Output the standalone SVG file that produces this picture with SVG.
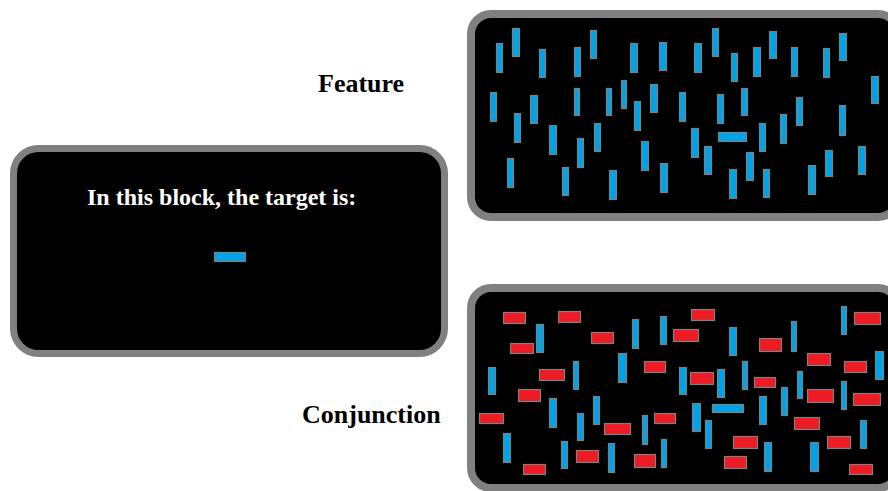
<svg xmlns="http://www.w3.org/2000/svg" width="888" height="491" viewBox="0 0 888 491">
<style>
.panel{fill:#000;stroke:#808080}
.b{fill:#00A2E8;stroke:#808080;stroke-width:1.2}
.r{fill:#ED1C24;stroke:#808080;stroke-width:1.2}
.lbl{font-family:"Liberation Serif","Times New Roman",serif;font-weight:bold;font-size:26px;fill:#000}
.cue{font-family:"Liberation Serif","Times New Roman",serif;font-weight:bold;font-size:24px;fill:#fff}
</style>
<rect width="888" height="491" fill="#fff"/>
<g id="cue-panel">
<rect class="panel" x="13.5" y="148.5" width="431" height="205" rx="25" stroke-width="7"/>
<text class="cue" x="87" y="205">In this block, the target is:</text>
<rect class="b" x="214.5" y="252.5" width="31" height="9"/>
</g>
<g id="feature-label"><text class="lbl" x="318" y="92">Feature</text></g>
<g id="conjunction-label"><text class="lbl" x="302" y="423">Conjunction</text></g>
<g id="feature-panel">
<rect class="panel" x="471" y="14" width="427" height="203" rx="20" stroke-width="8"/>
<rect class="b" x="496.5" y="43.5" width="6" height="29"/>
<rect class="b" x="512.5" y="28.5" width="7" height="28"/>
<rect class="b" x="539.5" y="49.5" width="6" height="28"/>
<rect class="b" x="574.5" y="47.5" width="6" height="29"/>
<rect class="b" x="590.5" y="30.5" width="6" height="28"/>
<rect class="b" x="630.5" y="43.5" width="7" height="29"/>
<rect class="b" x="659.5" y="42.5" width="7" height="28"/>
<rect class="b" x="490.5" y="92.5" width="6" height="29"/>
<rect class="b" x="514.5" y="113.5" width="6" height="29"/>
<rect class="b" x="530.5" y="95.5" width="7" height="28"/>
<rect class="b" x="574.5" y="88.5" width="5" height="27"/>
<rect class="b" x="606.5" y="88.5" width="5" height="27"/>
<rect class="b" x="621.5" y="80.5" width="5" height="28"/>
<rect class="b" x="634.5" y="101.5" width="6" height="29"/>
<rect class="b" x="650.5" y="84.5" width="7" height="28"/>
<rect class="b" x="549.5" y="125.5" width="7" height="29"/>
<rect class="b" x="577.5" y="138.5" width="6" height="29"/>
<rect class="b" x="594.5" y="123.5" width="6" height="28"/>
<rect class="b" x="507.5" y="158.5" width="6" height="29"/>
<rect class="b" x="562.5" y="167.5" width="6" height="28"/>
<rect class="b" x="609.5" y="170.5" width="7" height="29"/>
<rect class="b" x="641.5" y="141.5" width="7" height="29"/>
<rect class="b" x="660.5" y="163.5" width="7" height="29"/>
<rect class="b" x="694.5" y="43.5" width="7" height="29"/>
<rect class="b" x="712.5" y="28.5" width="6" height="28"/>
<rect class="b" x="731.5" y="53.5" width="6" height="28"/>
<rect class="b" x="753.5" y="47.5" width="7" height="29"/>
<rect class="b" x="769.5" y="31.5" width="7" height="27"/>
<rect class="b" x="791.5" y="47.5" width="6" height="29"/>
<rect class="b" x="823.5" y="48.5" width="6" height="29"/>
<rect class="b" x="839.5" y="33.5" width="7" height="27"/>
<rect class="b" x="871.5" y="76.5" width="7" height="27"/>
<rect class="b" x="679.5" y="92.5" width="6" height="29"/>
<rect class="b" x="717.5" y="94.5" width="6" height="29"/>
<rect class="b" x="741.5" y="88.5" width="6" height="27"/>
<rect class="b" x="780.5" y="114.5" width="6" height="29"/>
<rect class="b" x="796.5" y="97.5" width="6" height="28"/>
<rect class="b" x="839.5" y="105.5" width="6" height="30"/>
<rect class="b" x="691.5" y="128.5" width="7" height="29"/>
<rect class="b" x="704.5" y="146.5" width="7" height="28"/>
<rect class="b" x="759.5" y="123.5" width="6" height="28"/>
<rect class="b" x="746.5" y="152.5" width="7" height="28"/>
<rect class="b" x="729.5" y="169.5" width="7" height="29"/>
<rect class="b" x="763.5" y="169.5" width="6" height="28"/>
<rect class="b" x="808.5" y="165.5" width="7" height="29"/>
<rect class="b" x="825.5" y="150.5" width="7" height="26"/>
<rect class="b" x="858.5" y="146.5" width="7" height="28"/>
<rect class="b" x="718.5" y="132.5" width="28" height="9"/>
</g>
<g id="conjunction-panel">
<rect class="panel" x="471" y="288" width="427" height="200" rx="20" stroke-width="8"/>
<rect class="r" x="503.5" y="312.5" width="22" height="11"/>
<rect class="r" x="558.5" y="311.5" width="22" height="11"/>
<rect class="r" x="591.5" y="332.5" width="22" height="11"/>
<rect class="r" x="510.5" y="343.5" width="23" height="10"/>
<rect class="r" x="539.5" y="369.5" width="25" height="11"/>
<rect class="r" x="644.5" y="361.5" width="21" height="11"/>
<rect class="r" x="673.5" y="329.5" width="25" height="12"/>
<rect class="r" x="691.5" y="309.5" width="23" height="11"/>
<rect class="r" x="759.5" y="338.5" width="22" height="13"/>
<rect class="r" x="807.5" y="353.5" width="23" height="12"/>
<rect class="r" x="854.5" y="312.5" width="26" height="12"/>
<rect class="r" x="844.5" y="361.5" width="22" height="11"/>
<rect class="r" x="690.5" y="372.5" width="23" height="12"/>
<rect class="r" x="754.5" y="377.5" width="21" height="10"/>
<rect class="r" x="807.5" y="389.5" width="26" height="13"/>
<rect class="r" x="853.5" y="393.5" width="27" height="12"/>
<rect class="r" x="794.5" y="417.5" width="25" height="12"/>
<rect class="r" x="733.5" y="436.5" width="24" height="12"/>
<rect class="r" x="827.5" y="436.5" width="23" height="12"/>
<rect class="r" x="724.5" y="456.5" width="22" height="12"/>
<rect class="r" x="849.5" y="464.5" width="23" height="10"/>
<rect class="r" x="518.5" y="389.5" width="22" height="12"/>
<rect class="r" x="479.5" y="413.5" width="24" height="10"/>
<rect class="r" x="604.5" y="423.5" width="26" height="11"/>
<rect class="r" x="654.5" y="413.5" width="21" height="10"/>
<rect class="r" x="576.5" y="450.5" width="22" height="12"/>
<rect class="r" x="634.5" y="454.5" width="21" height="13"/>
<rect class="r" x="523.5" y="464.5" width="22" height="10"/>
<rect class="b" x="536.5" y="324.5" width="7" height="28"/>
<rect class="b" x="632.5" y="319.5" width="6" height="29"/>
<rect class="b" x="660.5" y="316.5" width="6" height="28"/>
<rect class="b" x="488.5" y="367.5" width="7" height="27"/>
<rect class="b" x="618.5" y="353.5" width="8" height="29"/>
<rect class="b" x="573.5" y="361.5" width="5" height="28"/>
<rect class="b" x="679.5" y="367.5" width="7" height="27"/>
<rect class="b" x="729.5" y="327.5" width="7" height="28"/>
<rect class="b" x="791.5" y="321.5" width="5" height="30"/>
<rect class="b" x="841.5" y="306.5" width="5" height="28"/>
<rect class="b" x="875.5" y="351.5" width="8" height="28"/>
<rect class="b" x="717.5" y="369.5" width="7" height="28"/>
<rect class="b" x="742.5" y="361.5" width="5" height="28"/>
<rect class="b" x="797.5" y="371.5" width="5" height="27"/>
<rect class="b" x="841.5" y="381.5" width="5" height="28"/>
<rect class="b" x="781.5" y="387.5" width="6" height="28"/>
<rect class="b" x="692.5" y="403.5" width="8" height="28"/>
<rect class="b" x="705.5" y="420.5" width="6" height="28"/>
<rect class="b" x="759.5" y="396.5" width="7" height="28"/>
<rect class="b" x="764.5" y="442.5" width="7" height="29"/>
<rect class="b" x="810.5" y="442.5" width="8" height="29"/>
<rect class="b" x="860.5" y="420.5" width="6" height="28"/>
<rect class="b" x="549.5" y="398.5" width="7" height="29"/>
<rect class="b" x="577.5" y="413.5" width="6" height="27"/>
<rect class="b" x="593.5" y="396.5" width="6" height="28"/>
<rect class="b" x="642.5" y="415.5" width="5" height="29"/>
<rect class="b" x="503.5" y="433.5" width="7" height="29"/>
<rect class="b" x="561.5" y="441.5" width="6" height="27"/>
<rect class="b" x="608.5" y="443.5" width="6" height="29"/>
<rect class="b" x="661.5" y="439.5" width="5" height="28"/>
<rect class="b" x="712.5" y="404.5" width="31" height="8"/>
</g>
</svg>
